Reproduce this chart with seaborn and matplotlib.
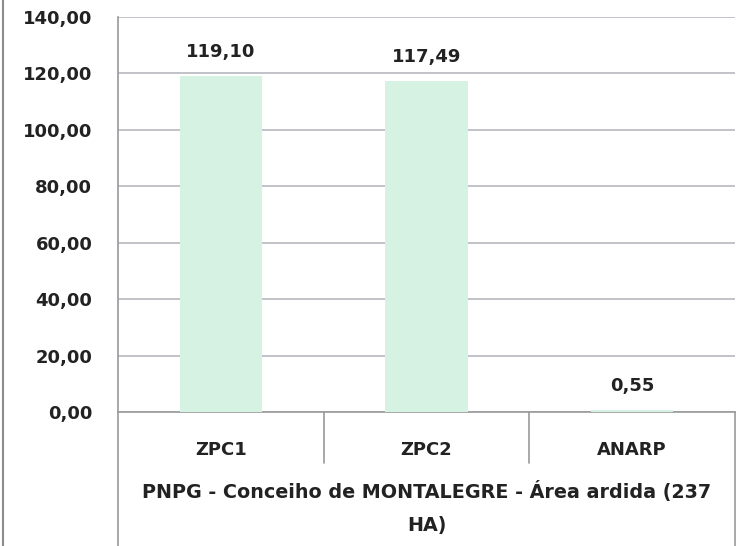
import numpy as np
import pandas as pd
import seaborn as sns
import matplotlib.pyplot as plt
from matplotlib.lines import Line2D

# data
categories = ['ZPC1', 'ZPC2', 'ANARP']
values = [119.10, 117.49, 0.55]
value_labels = ['119,10', '117,49', '0,55']
y_ticks = [0, 20, 40, 60, 80, 100, 120, 140]
y_tick_labels = ['0,00', '20,00', '40,00', '60,00', '80,00', '100,00', '120,00', '140,00']
group_label = 'PNPG - Conceiho de MONTALEGRE - Área ardida (237\nHA)'

df = pd.DataFrame({'cat': categories, 'val': values})

sns.set_style('white')
plt.rcParams['font.family'] = ['DejaVu Sans']
plt.rcParams['font.weight'] = 'bold'

W, H = 738, 546
fig = plt.figure(figsize=(W / 100, H / 100), dpi=100)
# plot area: x 118..735, y 17..412 (pixels)
ax = fig.add_axes([118 / W, 1 - 412 / H, (735 - 118) / W, (412 - 17) / H])

sns.barplot(data=df, x='cat', y='val', color='#d6f2e2', width=0.4,
            saturation=1, linewidth=0, ax=ax, zorder=3)

ax.set_xlim(-0.5, 2.5)
ax.set_ylim(0, 140)
ax.set_yticks(y_ticks)
ax.set_yticklabels(y_tick_labels, fontsize=13, color='#222222', fontweight='bold')
ax.yaxis.grid(True, color='#b8b8c0', linewidth=1.2, zorder=0)
ax.set_xlabel('')
ax.set_ylabel('')
ax.tick_params(axis='y', length=6, width=1, color='#9a9a9a', direction='out', pad=12.5)
ax.tick_params(axis='x', length=0, labelbottom=False)

for s in ['top', 'right']:
    ax.spines[s].set_visible(False)
ax.spines['left'].set_color('#9a9a9a')
ax.spines['bottom'].set_color('#9a9a9a')
ax.spines['left'].set_linewidth(1.2)
ax.spines['bottom'].set_linewidth(1.2)

# value labels above bars
for i, (v, lab) in enumerate(zip(values, value_labels)):
    ax.annotate(lab, (i, v), xytext=(0, 24), textcoords='offset pixels',
                ha='center', va='center', fontsize=13, color='#222222',
                fontweight='bold')

# category labels and separators (multi-level axis)
tr = ax.get_xaxis_transform()
ax_h = 412 - 17
for i, c in enumerate(categories):
    ax.text(i, -(450 - 412) / ax_h, c, transform=tr, ha='center', va='center',
            fontsize=13, color='#222222', fontweight='bold')
for xb in [0.5, 1.5]:
    ax.plot([xb, xb], [0, -(463 - 412) / ax_h], transform=tr, color='#9a9a9a',
            linewidth=1.2, clip_on=False)
for xb in [-0.5, 2.5]:
    ax.plot([xb, xb], [0, -(546 - 412) / ax_h], transform=tr, color='#9a9a9a',
            linewidth=1.2, clip_on=False)
ax.text(1.0, -(508 - 412) / ax_h, group_label, transform=tr, ha='center',
        va='center', fontsize=13.8, color='#222222', fontweight='bold',
        linespacing=1.95)

# chart frame edge on the left
fig.add_artist(Line2D([3 / W, 3 / W], [0, 1], transform=fig.transFigure,
                      color='#8c8c8c', linewidth=1.5))

fig.savefig('out.png', dpi=100)
